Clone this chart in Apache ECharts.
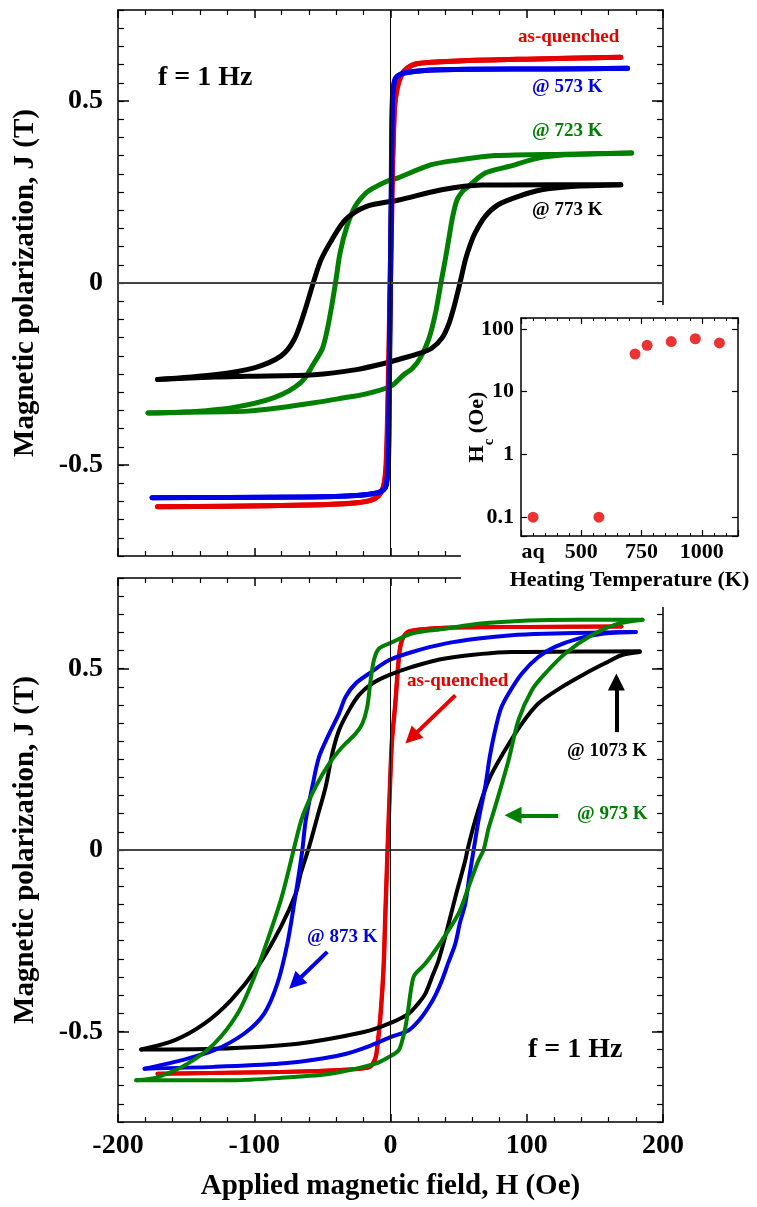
<!DOCTYPE html>
<html>
<head>
<meta charset="utf-8">
<script src="https://cdn.jsdelivr.net/npm/echarts@6/dist/echarts.min.js"></script>
<style>
html,body{margin:0;padding:0;background:#fff;}
#chart{width:757px;height:1207px;}
</style>
</head>
<body>
<div id="chart"></div>
<script>
// ---------- tick values / labels ----------
const jTickValues = [-0.5, 0, 0.5];
const jMajorTicks = [-0.5, 0.5];
const tempTickValues = [300, 500, 750, 1000];
const tempTickLabels = ['aq', '500', '750', '1000'];

// ---------- inset data: coercivity vs heating temperature ----------
const heatTemps = [300, 573, 723, 773, 873, 973, 1073];
const hcValues  = [0.1, 0.1, 40, 55, 63, 70, 60];

// ---------- TOP PANEL loops [H (Oe), J (T)] ----------
// ascending branch (left -> right) and descending branch (right -> left)
const topAqUp = [[-171,-0.615],[-120,-0.613],[-60,-0.61],[-30,-0.605],[-15,-0.597],[-9,-0.585],[-5,-0.56],[-3,-0.5],[-1.5,-0.3],[0,0],[1.5,0.3],[3,0.48],[5,0.535],[8,0.57],[12,0.59],[20,0.603],[50,0.61],[100,0.615],[169,0.62]];
const topAqDown = [[169,0.62],[100,0.615],[50,0.61],[20,0.603],[12,0.59],[8,0.572],[5,0.54],[3,0.49],[1.2,0.3],[-0.3,0],[-1.8,-0.3],[-3.3,-0.5],[-5.3,-0.56],[-9,-0.586],[-15,-0.598],[-30,-0.606],[-60,-0.61],[-120,-0.613],[-171,-0.615]];

const top573Up = [[-175,-0.59],[-120,-0.589],[-60,-0.588],[-25,-0.584],[-10,-0.577],[-5,-0.568],[-3,-0.555],[-1.5,-0.5],[-0.7,-0.25],[0,0],[0.7,0.25],[1.5,0.5],[3,0.555],[5,0.568],[10,0.577],[25,0.584],[60,0.587],[120,0.588],[174,0.59]];
const top573Down = [[174,0.59],[120,0.588],[60,0.587],[25,0.584],[10,0.577],[5,0.568],[2.8,0.555],[1.3,0.5],[0.5,0.25],[-0.2,0],[-0.9,-0.25],[-1.7,-0.5],[-3.2,-0.555],[-5.2,-0.568],[-10,-0.577],[-25,-0.584],[-60,-0.588],[-120,-0.589],[-175,-0.59]];

const top723Up = [[-178,-0.357],[-150,-0.355],[-105,-0.352],[-80,-0.342],[-56,-0.329],[-35,-0.316],[-19.5,-0.306],[0,-0.284],[9.7,-0.252],[16,-0.235],[22,-0.205],[28,-0.155],[33,-0.083],[37,0],[40,0.06],[42.7,0.119],[45.5,0.18],[48.8,0.228],[53,0.252],[57,0.265],[69.5,0.302],[86.6,0.32],[108.5,0.343],[128,0.352],[150,0.355],[177,0.357]];
const top723Down = [[177,0.357],[128,0.354],[77,0.35],[50,0.338],[30,0.325],[5,0.288],[-3,0.279],[-12,0.262],[-18,0.247],[-26,0.21],[-32,0.155],[-37,0.083],[-40,0.009],[-43,-0.06],[-46.4,-0.128],[-50,-0.18],[-56,-0.219],[-65.9,-0.274],[-85.4,-0.315],[-117,-0.343],[-153.7,-0.355],[-178,-0.357]];

const top773Up = [[-171,-0.265],[-129,-0.258],[-105,-0.256],[-56,-0.252],[-25,-0.238],[-2.5,-0.219],[9.7,-0.206],[20,-0.195],[30,-0.18],[38,-0.15],[43,-0.11],[47,-0.06],[51,0],[55,0.064],[58.5,0.105],[62,0.137],[69.5,0.183],[79,0.215],[94,0.238],[111,0.256],[133,0.265],[169,0.27]];
const top773Down = [[169,0.27],[120,0.27],[67,0.269],[37.6,0.256],[6,0.228],[-18,0.21],[-33,0.174],[-43,0.119],[-51,0.064],[-56,0.009],[-63.4,-0.082],[-70.8,-0.156],[-80.5,-0.201],[-100,-0.233],[-129.3,-0.252],[-171,-0.265]];

// ---------- BOTTOM PANEL loops ----------
const botAqUp = [[-171,-0.617],[-80,-0.612],[-30,-0.605],[-15,-0.598],[-11,-0.575],[-9.8,-0.552],[-7.3,-0.46],[-5,-0.33],[-3.7,-0.185],[-2,0],[-0.5,0.15],[1.2,0.3],[3.6,0.4],[5.6,0.5],[7.3,0.56],[10,0.59],[14.6,0.604],[40,0.613],[100,0.615],[169.5,0.616]];
const botAqDown = [[169.5,0.616],[100,0.615],[40,0.613],[14.3,0.604],[9.7,0.59],[7,0.56],[5.3,0.5],[3.3,0.4],[0.9,0.3],[-0.8,0.15],[-2.3,0],[-4,-0.185],[-5.3,-0.33],[-7.6,-0.46],[-10.1,-0.552],[-11.3,-0.575],[-15.3,-0.598],[-30,-0.605],[-80,-0.612],[-171,-0.617]];

const bot873Up = [[-180.5,-0.603],[-129.3,-0.598],[-80.5,-0.589],[-50,-0.575],[-31.7,-0.561],[-15,-0.54],[0,-0.516],[13.4,-0.497],[22,-0.465],[28,-0.433],[33,-0.4],[37.8,-0.359],[42.5,-0.31],[47.6,-0.258],[51,-0.2],[54.9,-0.148],[58,-0.07],[61,0],[65,0.09],[69.5,0.174],[73,0.26],[76.8,0.33],[81,0.39],[86.6,0.431],[96.3,0.486],[108.5,0.532],[120.7,0.56],[137.8,0.583],[157,0.597],[180,0.601]];
const bot873Down = [[180,0.601],[157,0.6],[113,0.596],[89,0.592],[64.6,0.583],[40,0.569],[15.9,0.546],[-1.2,0.523],[-15.9,0.486],[-25.6,0.459],[-33,0.422],[-37.8,0.376],[-45,0.321],[-52.5,0.256],[-57.4,0.174],[-62.2,0.082],[-64.7,0],[-67,-0.06],[-69.5,-0.12],[-75.7,-0.258],[-83,-0.368],[-92.7,-0.451],[-107.3,-0.506],[-129.3,-0.552],[-153.7,-0.58],[-180.5,-0.603]];

const bot973Up = [[-186.6,-0.635],[-116,-0.635],[-80,-0.628],[-43,-0.616],[-11,-0.589],[-1.2,-0.571],[6,-0.552],[9,-0.52],[11,-0.488],[13,-0.44],[14.6,-0.396],[16.5,-0.355],[18.3,-0.341],[25.6,-0.313],[37.8,-0.249],[50,-0.175],[57.3,-0.102],[64.6,-0.028],[68.3,0],[72,0.06],[76.8,0.119],[86.6,0.247],[93.9,0.358],[103.6,0.44],[113.4,0.486],[128,0.541],[147.5,0.592],[167,0.624],[185,0.635]];
const bot973Down = [[185,0.635],[137.8,0.635],[101,0.633],[64.6,0.624],[40,0.61],[15.9,0.597],[1.2,0.573],[-8.6,0.555],[-12.2,0.523],[-14.6,0.468],[-17.1,0.394],[-20.7,0.348],[-25.6,0.321],[-35.4,0.284],[-45,0.238],[-55,0.174],[-64.7,0.091],[-70.8,0.005],[-75,-0.06],[-80.5,-0.138],[-90.3,-0.249],[-100,-0.35],[-112.2,-0.451],[-129.3,-0.534],[-148.8,-0.589],[-170.8,-0.626],[-186.6,-0.635]];

const bot1073Up = [[-183,-0.55],[-129,-0.548],[-68,-0.534],[-19.5,-0.502],[-1.2,-0.479],[13.4,-0.451],[20,-0.425],[25.6,-0.396],[30.5,-0.35],[35.3,-0.304],[41.4,-0.221],[47.6,-0.13],[54.9,-0.028],[56.5,0],[62.2,0.082],[72,0.192],[84,0.275],[96.3,0.348],[108.5,0.404],[125.6,0.449],[142.7,0.486],[157,0.514],[169.5,0.537],[183,0.546]];
const bot1073Down = [[183,0.548],[137.8,0.547],[89,0.546],[40,0.528],[15.9,0.505],[-1.2,0.482],[-13.4,0.459],[-23.2,0.427],[-30.5,0.385],[-37.8,0.33],[-42.7,0.266],[-47.6,0.174],[-53.7,0.091],[-59.8,0.008],[-65.9,-0.065],[-69.5,-0.12],[-80.5,-0.212],[-97.6,-0.323],[-117,-0.414],[-136.6,-0.479],[-158.6,-0.525],[-183,-0.55]];

// arrows in the bottom panel: [fromH, fromJ, toH, toJ]
const arrowAq   = [47.6, 0.4265, 15.4, 0.31];
const arrow1073 = [165.8, 0.325, 165.8, 0.463];
const arrow973  = [123.1, 0.0957, 89.9, 0.0957];
const arrow873  = [-46.4, -0.281, -69.9, -0.366];

// ---------- styling ----------
const F = '"Liberation Serif","Times New Roman",serif';
const RED = '#e60000', BLUE = '#0000e6', GREEN = '#008000', BLACK = '#000000';

function xMain(grid, pos, labels, extra) {
  return Object.assign({
    type: 'value', gridIndex: grid, position: pos, min: -200, max: 200, interval: 100,
    axisLine: { show: true, onZero: false, lineStyle: { color: '#000', width: 1.5 } },
    axisTick: { show: true, inside: true, length: 8, lineStyle: { color: '#000', width: 1.5 } },
    minorTick: { show: true, splitNumber: 5, length: 5, lineStyle: { color: '#000', width: 1.2 } },
    axisLabel: { show: labels, margin: 10, color: '#000', fontSize: 28, fontWeight: 'bold', fontFamily: F },
    splitLine: { show: false }, minorSplitLine: { show: false }
  }, extra || {});
}
function yMinor(grid, pos, labels, extra) {
  return Object.assign({
    type: 'value', gridIndex: grid, position: pos, min: -0.75, max: 0.75, interval: 0.05,
    axisLine: { show: true, onZero: false, lineStyle: { color: '#000', width: 1.5 } },
    axisTick: { show: true, inside: true, length: 6, lineStyle: { color: '#000', width: 1.2 } },
    axisLabel: { show: labels, customValues: jTickValues, margin: 15, color: '#000', fontSize: 28, fontWeight: 'bold', fontFamily: F },
    splitLine: { show: false }
  }, extra || {});
}
function yMajor(grid, pos) {
  return {
    type: 'value', gridIndex: grid, position: pos, min: -0.75, max: 0.75, interval: 0.05,
    axisLine: { show: false, onZero: false },
    axisTick: { show: true, inside: true, length: 11, customValues: jMajorTicks, lineStyle: { color: '#000', width: 1.5 } },
    axisLabel: { show: false }, splitLine: { show: false }
  };
}
function xInset(pos, labels, extra) {
  return Object.assign({
    type: 'value', gridIndex: 2, position: pos, min: 250, max: 1150, interval: 250, z: 20,
    axisLine: { show: true, onZero: false, lineStyle: { color: '#000', width: 1.5 } },
    axisTick: { show: true, inside: true, length: 6, lineStyle: { color: '#000', width: 1.2 } },
    minorTick: { show: true, splitNumber: 5, length: 3, lineStyle: { color: '#000', width: 1 } },
    axisLabel: {
      show: labels, customValues: tempTickValues, margin: 5, color: '#000', fontSize: 22, fontWeight: 'bold', fontFamily: F,
      formatter: function (v) { const i = tempTickValues.indexOf(v); return i >= 0 ? tempTickLabels[i] : ''; }
    },
    splitLine: { show: false }
  }, extra || {});
}
function yInset(pos, labels, extra) {
  return Object.assign({
    type: 'log', logBase: 10, gridIndex: 2, position: pos, min: 0.05, max: 150, z: 20,
    axisLine: { show: true, onZero: false, lineStyle: { color: '#000', width: 1.5 } },
    axisTick: { show: true, inside: true, length: 6, lineStyle: { color: '#000', width: 1.2 } },
    axisLabel: {
      show: labels, margin: 7, color: '#000', fontSize: 22, fontWeight: 'bold', fontFamily: F,
      formatter: function (v) { const l = Math.log10(v); return Math.abs(l - Math.round(l)) < 1e-6 ? String(+v.toPrecision(6)) : ''; }
    },
    splitLine: { show: false }
  }, extra || {});
}

const nameStyle = { color: '#000', fontSize: 29, fontWeight: 'bold', fontFamily: F };

function branch(name, data, color, width, xi, yi) {
  return { name: name, type: 'line', xAxisIndex: xi, yAxisIndex: yi, data: data, showSymbol: false, symbol: 'none',
    smooth: 0.3, z: 2, lineStyle: { color: color, width: width, cap: 'round', join: 'round' }, silent: true };
}
function loopSeries(name, up, down, color, width, xi, yi) {
  return [branch(name, up, color, width, xi, yi), branch(name, down, color, width, xi, yi)];
}
function zeroLines(xi, yi) {
  return { type: 'line', xAxisIndex: xi, yAxisIndex: yi, data: [], z: 1, silent: true,
    markLine: { silent: true, animation: false, symbol: ['none', 'none'], label: { show: false },
      data: [ { yAxis: 0, lineStyle: { color: '#444', width: 2, type: 'solid' } },
              { xAxis: 0, lineStyle: { color: '#000', width: 1, type: 'solid' } } ] } };
}
function arrowItem(a, color) {
  return [ { coord: [a[0], a[1]], lineStyle: { color: color, width: 4, type: 'solid' } }, { coord: [a[2], a[3]] } ];
}

const annFont = 'bold 19px ' + F;
const bigFont = 'bold 28px ' + F;
function txt(t, x, y, color, font) {
  return { type: 'text', z: 30, style: { text: t, x: x, y: y, fill: color, font: font,
    textAlign: 'left', textVerticalAlign: 'middle', align: 'left', verticalAlign: 'middle' } };
}

const option = {
  animation: false,
  backgroundColor: '#fff',
  grid: [
    { left: 118, top: 10, width: 545, height: 546, outerBoundsMode: 'none', containLabel: false },
    { left: 118, top: 578, width: 545, height: 544, outerBoundsMode: 'none', containLabel: false },
    { left: 521, top: 318, width: 217, height: 218, outerBoundsMode: 'none', containLabel: false }
  ],
  xAxis: [
    xMain(0, 'bottom', false),
    xMain(0, 'top', false),
    xMain(1, 'bottom', true, { name: 'Applied magnetic field, H (Oe)', nameLocation: 'middle', nameGap: 50, nameMoveOverlap: false, nameTextStyle: nameStyle }),
    xMain(1, 'top', false),
    xInset('bottom', true, { name: 'Heating Temperature (K)', nameLocation: 'middle', nameGap: 33, nameMoveOverlap: false,
      nameTextStyle: { color: '#000', fontSize: 22, fontWeight: 'bold', fontFamily: F } }),
    xInset('top', false)
  ],
  yAxis: [
    yMinor(0, 'left', true, { name: 'Magnetic polarization, J (T)', nameLocation: 'middle', nameRotate: 90, nameGap: 78, nameMoveOverlap: false, nameTextStyle: nameStyle }),
    yMajor(0, 'left'),
    yMinor(0, 'right', false),
    yMajor(0, 'right'),
    yMinor(1, 'left', true, { name: 'Magnetic polarization, J (T)', nameLocation: 'middle', nameRotate: 90, nameGap: 78, nameMoveOverlap: false, nameTextStyle: nameStyle }),
    yMajor(1, 'left'),
    yMinor(1, 'right', false),
    yMajor(1, 'right'),
    yInset('left', true, { name: '{h|H}{c|c}{h| (Oe)}', nameLocation: 'middle', nameRotate: 90, nameGap: 24, nameMoveOverlap: false,
      nameTextStyle: { color: '#000', fontFamily: F, fontWeight: 'bold', fontSize: 22,
        rich: { h: { fontSize: 22, fontWeight: 'bold', fontFamily: F, color: '#000', verticalAlign: 'top', lineHeight: 24 },
                c: { fontSize: 15, fontWeight: 'bold', fontFamily: F, color: '#000', verticalAlign: 'bottom', lineHeight: 31 } } } }),
    yInset('right', false)
  ],
  graphic: { elements: [
    { type: 'rect', z: 10, shape: { x: 461, y: 305, width: 296, height: 302 }, style: { fill: '#fff' } },
    txt('f = 1 Hz', 158, 78, BLACK, bigFont),
    txt('as-quenched', 518, 37, RED, annFont),
    txt('@ 573 K', 532, 87, BLUE, annFont),
    txt('@ 723 K', 532, 131, GREEN, annFont),
    txt('@ 773 K', 532, 210, BLACK, annFont),
    txt('as-quenched', 407, 681, RED, annFont),
    txt('@ 1073 K', 567, 751, BLACK, annFont),
    txt('@ 973 K', 577, 814, GREEN, annFont),
    txt('@ 873 K', 307, 937, BLUE, annFont),
    txt('f = 1 Hz', 528, 1050, BLACK, bigFont)
  ] },
  series: [].concat(
    [zeroLines(0, 0)],
    loopSeries('723 K', top723Up, top723Down, GREEN, 5, 0, 0),
    loopSeries('773 K', top773Up, top773Down, BLACK, 5, 0, 0),
    loopSeries('as-quenched', topAqUp, topAqDown, RED, 5, 0, 0),
    loopSeries('573 K', top573Up, top573Down, BLUE, 5, 0, 0),
    [zeroLines(2, 4)],
    loopSeries('as-quenched', botAqUp, botAqDown, RED, 4, 2, 4),
    loopSeries('1073 K', bot1073Up, bot1073Down, BLACK, 4, 2, 4),
    loopSeries('873 K', bot873Up, bot873Down, BLUE, 4, 2, 4),
    loopSeries('973 K', bot973Up, bot973Down, GREEN, 4, 2, 4),
    [{ type: 'line', xAxisIndex: 2, yAxisIndex: 4, data: [], z: 5, silent: true,
      markLine: { silent: true, animation: false, symbol: ['none', 'triangle'], symbolSize: 17, label: { show: false },
        data: [ arrowItem(arrowAq, RED), arrowItem(arrow1073, BLACK), arrowItem(arrow973, GREEN), arrowItem(arrow873, BLUE) ] } },
     { name: 'Hc', type: 'scatter', xAxisIndex: 4, yAxisIndex: 8, z: 21, symbol: 'circle', symbolSize: 11,
      itemStyle: { color: RED }, silent: true,
      data: heatTemps.map(function (t, i) { return [t, hcValues[i]]; }) }]
  )
};

const chart = echarts.init(document.getElementById('chart'), null, { renderer: 'canvas', width: 757, height: 1207 });
chart.setOption(option);
</script>
</body>
</html>
